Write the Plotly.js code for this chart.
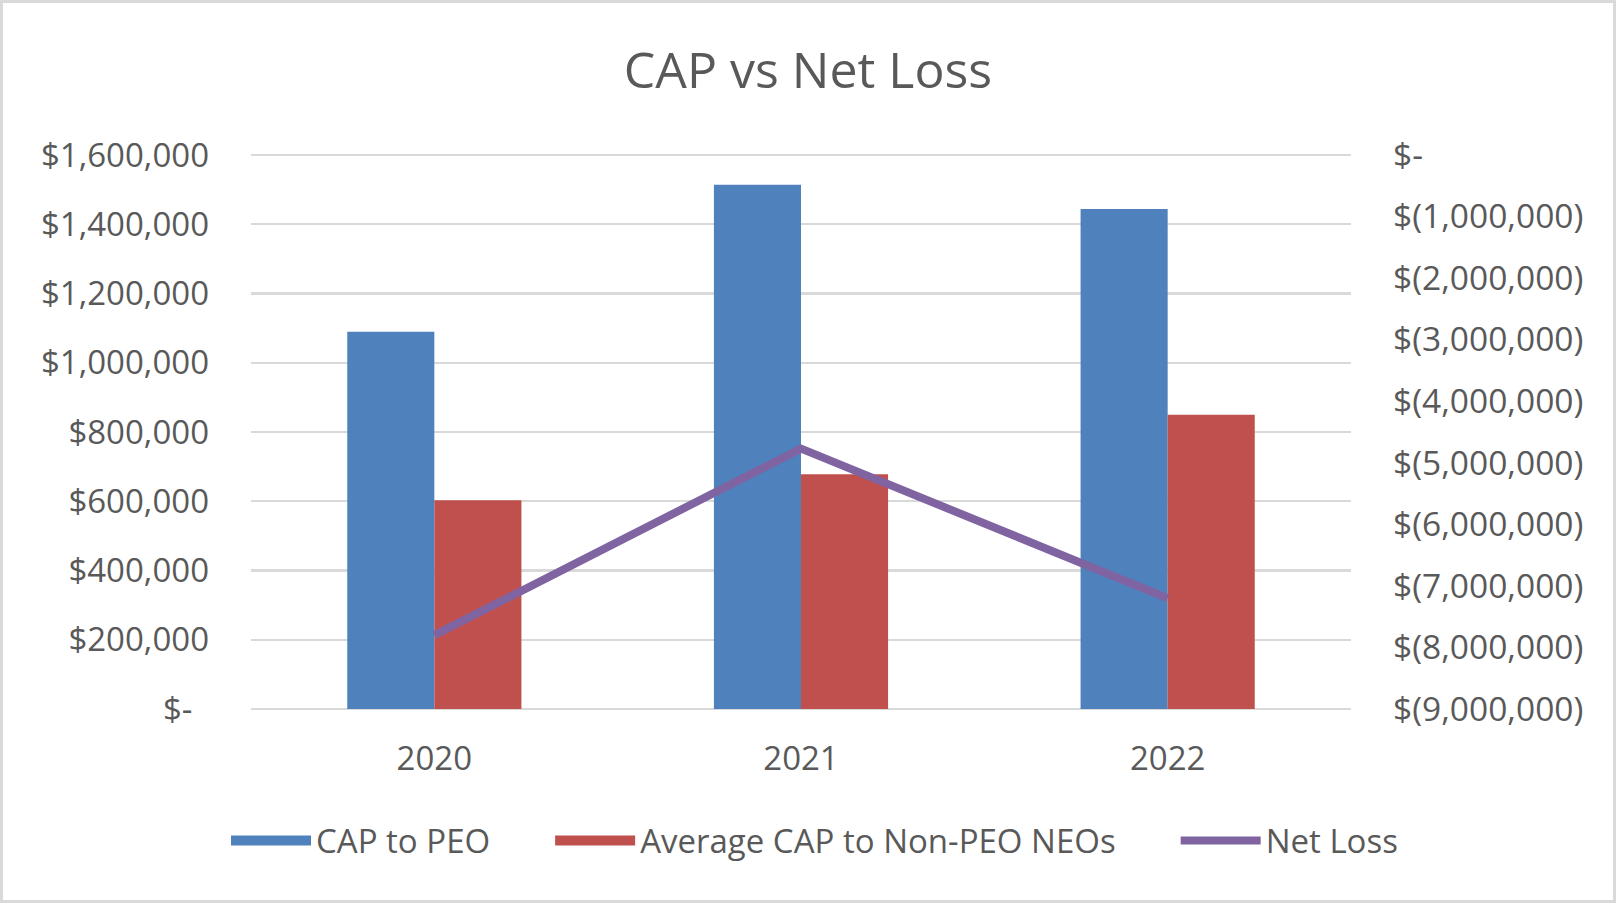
<!DOCTYPE html>
<html>
<head>
<meta charset="utf-8">
<script src="https://cdn.plot.ly/plotly-3.0.1.min.js"></script>
<style>
  html, body { margin: 0; padding: 0; background: #ffffff; }
  #frame { width: 1616px; height: 903px; box-sizing: border-box; border: 3px solid #D9D9D9; background: #ffffff; }
  #chart { width: 1610px; height: 897px; }
</style>
</head>
<body>
<div id="frame"><div id="chart"></div></div>
<script>
// ---- data ----
const years = ['2020', '2021', '2022'];
const capToPEO = [1090000, 1514000, 1444000];
const avgCapNonPEO = [603000, 678000, 850000];
const netLoss = [-7800000, -4770000, -7200000];

const seriesNames = ['CAP to PEO', 'Average CAP to Non-PEO NEOs', 'Net Loss'];

const leftTickVals = [0, 200000, 400000, 600000, 800000, 1000000, 1200000, 1400000, 1600000];
const leftTickText = ['$-\u2002', '$200,000', '$400,000', '$600,000', '$800,000', '$1,000,000', '$1,200,000', '$1,400,000', '$1,600,000'];
const rightTickVals = [0, -1000000, -2000000, -3000000, -4000000, -5000000, -6000000, -7000000, -8000000, -9000000];
const rightTickText = ['$-', '$(1,000,000)', '$(2,000,000)', '$(3,000,000)', '$(4,000,000)', '$(5,000,000)', '$(6,000,000)', '$(7,000,000)', '$(8,000,000)', '$(9,000,000)'];

// ---- styles ----
const BLUE = '#4F81BD', RED = '#C0504D', PURPLE = '#8064A2';
const TEXT = '#595959', GRID = '#D9D9D9';
const FONT = 'Open Sans, Lato, sans-serif';
const GAP = '\u2003\u2002\u2009'; // spacing after a legend entry

const traces = [
  { type: 'bar', x: years, y: capToPEO, name: seriesNames[0], marker: { color: BLUE }, showlegend: false },
  { type: 'bar', x: years, y: avgCapNonPEO, name: seriesNames[1], marker: { color: RED }, showlegend: false },
  { type: 'scatter', mode: 'lines', x: years, y: netLoss, name: seriesNames[2], yaxis: 'y2',
    line: { color: PURPLE, width: 8 }, legendrank: 3 },
  // legend swatches for the bar series (no visible data)
  { type: 'scatter', mode: 'lines', x: [null], y: [null], name: seriesNames[0] + GAP,
    line: { color: BLUE, width: 20 }, legendrank: 1 },
  { type: 'scatter', mode: 'lines', x: [null], y: [null], name: seriesNames[1] + GAP,
    line: { color: RED, width: 20 }, legendrank: 2 }
];

const layout = {
  width: 1610, height: 897,
  margin: { l: 248, r: 262, t: 150, b: 191 },
  paper_bgcolor: '#ffffff', plot_bgcolor: '#ffffff',
  font: { family: FONT, color: TEXT, size: 33 },
  title: { text: 'CAP vs Net Loss', font: { family: FONT, size: 50, color: TEXT },
           x: 0.5, xanchor: 'center', xref: 'container', y: 0.9249, yanchor: 'middle', yref: 'container' },
  barmode: 'group', bargap: 0.525, bargroupgap: 0,
  xaxis: { type: 'category', showgrid: false, zeroline: false, showline: false, ticks: '',
           tickfont: { family: FONT, size: 33, color: TEXT }, ticklabelstandoff: 27 },
  yaxis: { range: [0, 1606000], tickvals: leftTickVals, ticktext: leftTickText,
           showgrid: true, gridcolor: GRID, gridwidth: 2.2, zeroline: true, zerolinecolor: GRID, zerolinewidth: 2.2,
           showline: false, ticks: '', tickfont: { family: FONT, size: 33, color: TEXT }, ticklabelstandoff: 41 },
  yaxis2: { range: [-9000000, 34000], overlaying: 'y', side: 'right', tickvals: rightTickVals, ticktext: rightTickText,
            showgrid: false, zeroline: false, showline: false, ticks: '',
            tickfont: { family: FONT, size: 33.5, color: TEXT }, ticklabelstandoff: 41 },
  showlegend: true,
  legend: { orientation: 'h', x: -0.0227, xanchor: 'left', y: -0.2367, yanchor: 'middle',
            font: { family: FONT, size: 33, color: TEXT }, itemwidth: 80, traceorder: 'normal',
            bgcolor: 'rgba(0,0,0,0)' },
  hovermode: false
};

Plotly.newPlot('chart', traces, layout, { displayModeBar: false, staticPlot: true });
</script>
</body>
</html>
